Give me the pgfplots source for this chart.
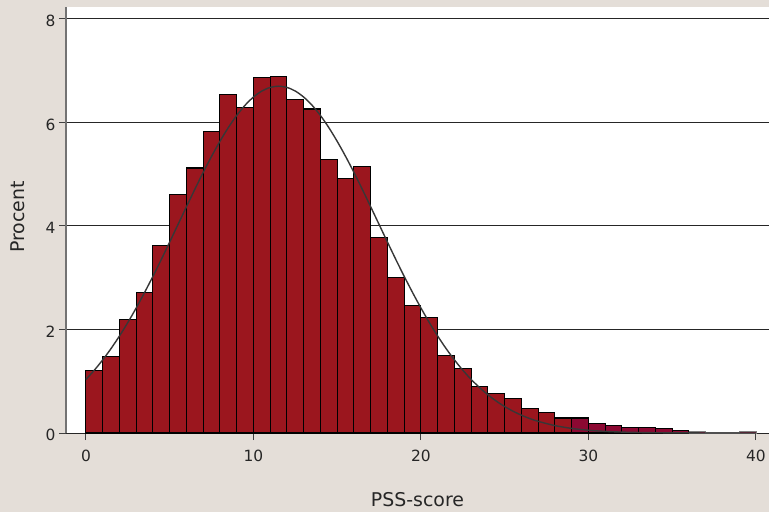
\documentclass[border=0pt]{standalone}
\usepackage{fontspec}
\setmainfont{DejaVu Sans}
\usepackage{pgfplots}
\pgfplotsset{compat=1.18}
\definecolor{bgbeige}{RGB}{228,222,216}
\definecolor{barred}{RGB}{155,22,30}
\definecolor{barmag}{RGB}{140,8,50}
\definecolor{curvegray}{RGB}{55,55,55}
\begin{document}
\begin{tikzpicture}
\fill[bgbeige] (-66bp,-79bp) rectangle (703bp,433bp);
\begin{axis}[
  at={(0,0)}, anchor=south west,
  scale only axis,
  width=703bp, height=426bp,
  xmin=-1.19, xmax=40.78,
  ymin=0, ymax=8.23,
  axis x line=bottom, axis y line=left,
  x axis line style={draw=none,-},
  y axis line style={-,draw=black!55,line width=1.2bp},
  axis background/.style={fill=white},
  xtick={0,10,20,30,40},
  ytick={0,2,4,6,8},
  tick align=outside,
  major tick length=7bp,
  tick style={draw=black!75,line width=1bp},
  ymajorgrids,
  grid style={draw=black!85,line width=1bp},
  /pgf/number format/assume math mode=true,
  tick label style={font=\fontsize{15.5}{18}\selectfont, text=black!85},
  xticklabel style={yshift=-7bp},
  yticklabel style={yshift=-2bp},
  label style={font=\fontsize{19}{22}\selectfont, text=black!85},
  xlabel={PSS-score},
  ylabel={Procent},
  xlabel style={at={(axis description cs:0.5,0)}, anchor=north, yshift=-56bp},
  ylabel style={at={(axis description cs:-0.0683,0.507)}, anchor=center},
  clip=true,
]
\addplot[ybar interval, fill=barred, draw=black, line width=1.1bp] coordinates {
(0,1.20) (1,1.47) (2,2.19) (3,2.72) (4,3.63) (5,4.61) (6,5.12) (7,5.83)
(8,6.54) (9,6.29) (10,6.86) (11,6.88) (12,6.44) (13,6.26) (14,5.28) (15,4.92)
(16,5.14) (17,3.78) (18,3.01) (19,2.46) (20,2.23) (21,1.49) (22,1.24) (23,0.90)
(24,0.76) (25,0.66) (26,0.47) (27,0.40) (28,0.29) (29,0.29)
};
\addplot[ybar interval, fill=barmag, draw=black, line width=1.1bp] coordinates {
(29,0.29) (30,0.19) (31,0.145) (32,0.11) (33,0.11) (34,0.08) (35,0.055) (36,0.055)
};
\addplot[ybar interval, fill=barmag, draw=black!50, line width=0.8bp] coordinates {
(36,0.03) (37,0.012) (38,0.012) (39,0.03) (40,0.03)
};
\addplot[smooth, color=curvegray, line width=1.4bp] coordinates {
(0,1.035) (0.5,1.213) (1,1.412) (1.5,1.632) (2,1.873) (2.5,2.134) (3,2.415)
(3.5,2.714) (4,3.027) (4.5,3.353) (5,3.689) (5.5,4.030) (6,4.370) (6.5,4.707)
(7,5.034) (7.5,5.345) (8,5.635) (8.5,5.900) (9,6.134) (9.5,6.332) (10,6.490)
(10.5,6.606) (11,6.676) (11.5,6.700) (12,6.676) (12.5,6.606) (13,6.490)
(13.5,6.332) (14,6.134) (14.5,5.900) (15,5.635) (15.5,5.345) (16,5.034)
(16.5,4.707) (17,4.370) (17.5,4.030) (18,3.689) (18.5,3.353) (19,3.027)
(19.5,2.714) (20,2.415) (20.5,2.134) (21,1.873) (21.5,1.632) (22,1.412)
(22.5,1.213) (23,1.035) (23.5,0.877) (24,0.738) (24.5,0.616) (25,0.511)
(25.5,0.421) (26,0.344) (26.5,0.279) (27,0.225) (28,0.143) (29,0.0886)
(30,0.0533) (31,0.0311) (32,0.0177) (33,0.0098) (34,0.0052) (35,0.0027)
(36,0.0014) (38,0.0003) (40,0.0001)
};
\end{axis}
\pgfresetboundingbox
\useasboundingbox (-66bp,-79bp) rectangle (703bp,433bp);
\end{tikzpicture}
\end{document}
